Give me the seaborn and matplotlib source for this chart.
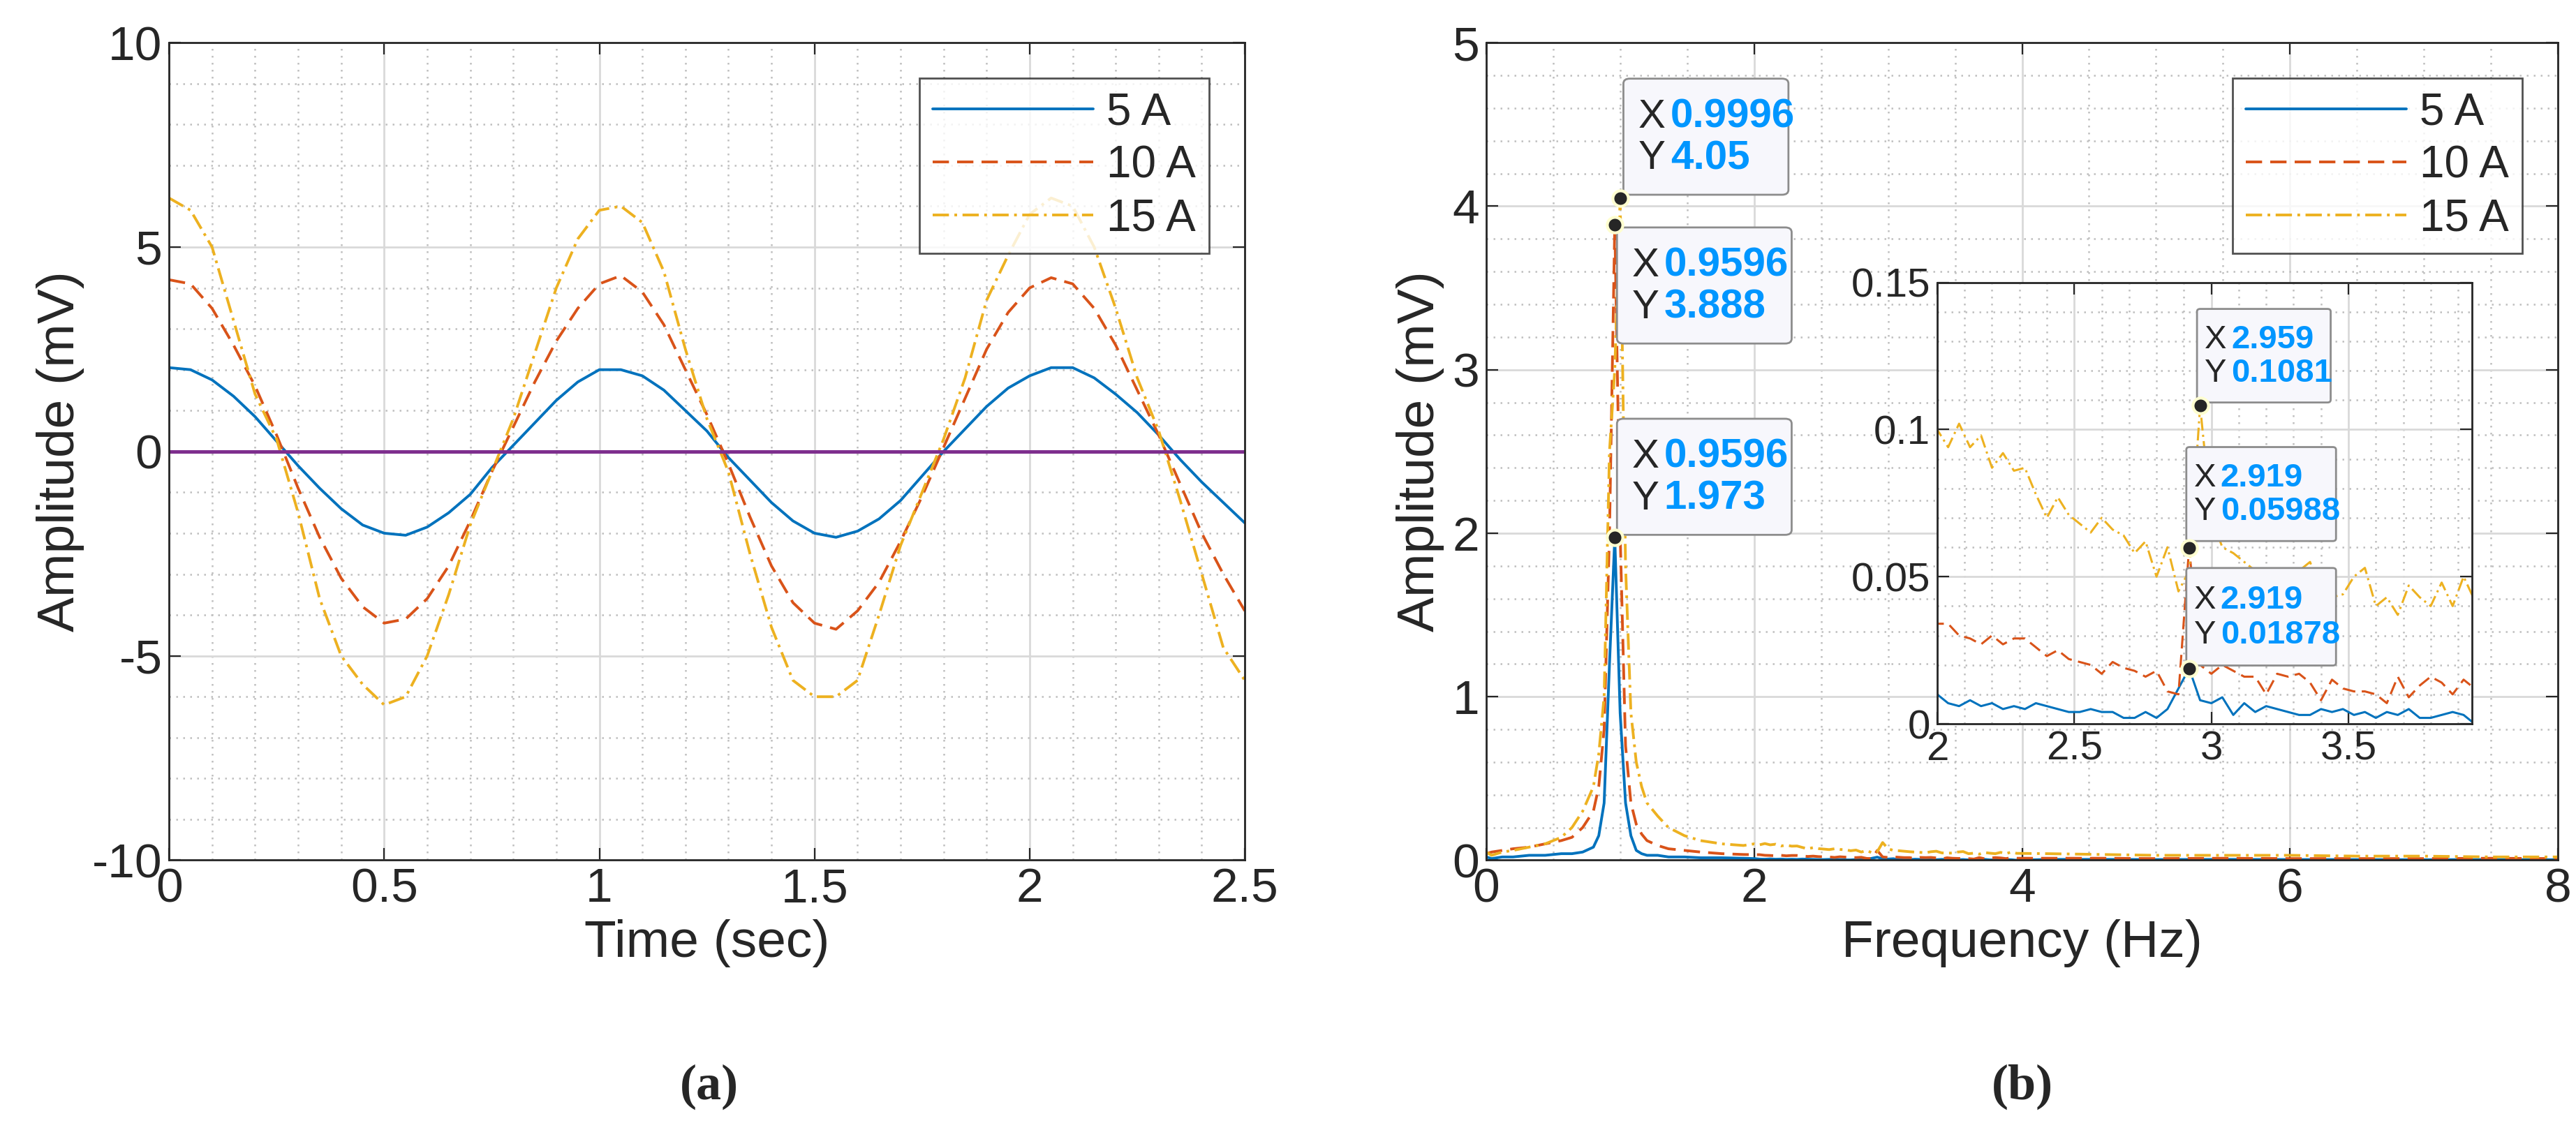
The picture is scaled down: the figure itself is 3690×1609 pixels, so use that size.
import numpy as np
import pandas as pd
import matplotlib.pyplot as plt
import seaborn as sns
from matplotlib.patches import FancyBboxPatch
from matplotlib.ticker import MultipleLocator

# ---- data ----
time_s = [round(0.05 * k, 2) for k in range(51)]
amp_5a = [2.05, 2.0, 1.75, 1.35, 0.85, 0.25, -0.35, -0.9, -1.4, -1.8, -2.0, -2.05, -1.85, -1.5, -1.05, -0.4,
          0.15, 0.7, 1.25, 1.7, 2.0, 2.0, 1.85, 1.5, 1.0, 0.5, -0.15, -0.7, -1.25, -1.7, -2.0, -2.1, -1.95,
          -1.65, -1.2, -0.6, 0.0, 0.55, 1.1, 1.55, 1.85, 2.05, 2.05, 1.8, 1.4, 0.95, 0.4, -0.2, -0.75, -1.25, -1.75]
amp_10a = [4.2, 4.1, 3.5, 2.6, 1.6, 0.4, -0.9, -2.1, -3.1, -3.8, -4.2, -4.1, -3.6, -2.8, -1.7, -0.5, 0.6, 1.7,
           2.7, 3.5, 4.1, 4.3, 3.9, 3.1, 2.0, 0.9, -0.3, -1.6, -2.8, -3.7, -4.2, -4.35, -3.9, -3.2, -2.2, -1.1,
           0.1, 1.3, 2.5, 3.4, 4.0, 4.25, 4.1, 3.5, 2.6, 1.5, 0.4, -0.8, -2.0, -3.0, -3.9]
amp_15a = [6.2, 5.9, 5.0, 3.2, 1.4, 0.3, -1.5, -3.6, -5.0, -5.7, -6.2, -6.0, -5.0, -3.5, -1.8, -0.5, 0.8, 2.4,
           4.0, 5.2, 5.9, 6.0, 5.6, 4.4, 2.5, 0.8, -0.5, -2.5, -4.3, -5.6, -6.0, -6.0, -5.6, -4.0, -2.3, -1.0,
           0.3, 1.8, 3.7, 4.8, 5.8, 6.2, 6.0, 5.0, 3.5, 1.8, 0.5, -1.2, -3.0, -4.8, -5.6]

freq_low = [0, 0.04, 0.12, 0.2, 0.32, 0.44, 0.56, 0.64, 0.72, 0.8, 0.84, 0.88, 0.92, 0.9596, 0.9996, 1.04,
            1.08, 1.12, 1.16, 1.2, 1.28, 1.36, 1.48, 1.6, 1.76, 1.92]
freq_mid = [2.0, 2.04, 2.08, 2.12, 2.16, 2.2, 2.24, 2.28, 2.32, 2.36, 2.4, 2.44, 2.48, 2.52, 2.56, 2.6, 2.64,
            2.68, 2.72, 2.76, 2.8, 2.84, 2.88, 2.919, 2.959, 3.0, 3.04, 3.08, 3.12, 3.16, 3.2, 3.24, 3.28, 3.32,
            3.36, 3.4, 3.44, 3.48, 3.52, 3.56, 3.6, 3.64, 3.68, 3.72, 3.76, 3.8, 3.84, 3.88, 3.92, 3.96]
freq_high = [4.2, 4.6, 5.0, 5.5, 6.0, 6.5, 7.0, 7.5, 8.0]

spec5_low = [0.02, 0.01, 0.02, 0.02, 0.03, 0.03, 0.04, 0.04, 0.05, 0.08, 0.15, 0.35, 1.2, 1.973, 0.9, 0.35,
             0.15, 0.06, 0.04, 0.03, 0.03, 0.02, 0.02, 0.015, 0.015, 0.012]
spec5_mid = [0.010, 0.007, 0.006, 0.008, 0.006, 0.007, 0.005, 0.006, 0.005, 0.007, 0.006, 0.005, 0.004, 0.004,
             0.005, 0.004, 0.004, 0.002, 0.002, 0.004, 0.002, 0.005, 0.012, 0.01878, 0.008, 0.007, 0.009, 0.003,
             0.007, 0.004, 0.006, 0.005, 0.004, 0.003, 0.003, 0.005, 0.004, 0.005, 0.003, 0.004, 0.002, 0.004,
             0.003, 0.005, 0.002, 0.002, 0.003, 0.004, 0.003, 0.0]
spec5_high = [0.005, 0.005, 0.004, 0.005, 0.004, 0.004, 0.003, 0.004, 0.003]

spec10_low = [0.04, 0.05, 0.06, 0.07, 0.08, 0.10, 0.12, 0.14, 0.2, 0.3, 0.45, 0.8, 2.0, 3.888, 2.0, 0.7, 0.35,
              0.22, 0.16, 0.12, 0.09, 0.07, 0.06, 0.05, 0.04, 0.035]
spec10_mid = [0.034, 0.034, 0.030, 0.029, 0.027, 0.030, 0.027, 0.029, 0.029, 0.026, 0.023, 0.025, 0.022, 0.021,
              0.020, 0.017, 0.021, 0.019, 0.018, 0.016, 0.018, 0.011, 0.010, 0.05988, 0.020, 0.017, 0.020, 0.018,
              0.016, 0.016, 0.010, 0.017, 0.016, 0.017, 0.014, 0.008, 0.015, 0.012, 0.011, 0.011, 0.010, 0.007,
              0.016, 0.009, 0.013, 0.016, 0.014, 0.010, 0.015, 0.012]
spec10_high = [0.012, 0.012, 0.01, 0.012, 0.01, 0.01, 0.01, 0.012, 0.01]

spec15_low = [0.05, 0.03, 0.05, 0.06, 0.08, 0.10, 0.14, 0.2, 0.3, 0.45, 0.65, 1.0, 2.5, 3.0, 4.05, 1.8, 0.9,
              0.6, 0.45, 0.35, 0.27, 0.2, 0.15, 0.12, 0.1, 0.09]
spec15_mid = [0.100, 0.094, 0.102, 0.094, 0.098, 0.087, 0.092, 0.086, 0.087, 0.078, 0.070, 0.077, 0.071, 0.068,
              0.065, 0.070, 0.066, 0.064, 0.058, 0.062, 0.050, 0.060, 0.045, 0.052, 0.1081, 0.070, 0.060, 0.058,
              0.055, 0.052, 0.050, 0.048, 0.046, 0.052, 0.055, 0.045, 0.043, 0.044, 0.050, 0.053, 0.040, 0.043,
              0.037, 0.047, 0.043, 0.040, 0.048, 0.040, 0.050, 0.042]
spec15_high = [0.04, 0.035, 0.03, 0.03, 0.03, 0.025, 0.025, 0.02, 0.02]

labels = ["5 A", "10 A", "15 A"]
colors = ["#0072BD", "#D95319", "#EDB120"]
dashes = [(None, None), (6, 3), (6, 2, 1, 2)]

# ---- style ----
sns.set_style("ticks")
plt.rcParams["font.family"] = ["Liberation Sans", "DejaVu Sans"]
plt.rcParams["xtick.direction"] = "in"
plt.rcParams["ytick.direction"] = "in"

fig = plt.figure(figsize=(18.455, 8.045), dpi=200)
ax1 = fig.add_axes([0.0656, 0.234, 0.4175, 0.728])
ax2 = fig.add_axes([0.5768, 0.234, 0.4159, 0.728])
ax3 = fig.add_axes([0.7518, 0.3555, 0.2075, 0.393])

freq = freq_low + freq_mid + freq_high
spec = [spec5_low + spec5_mid + spec5_high,
        spec10_low + spec10_mid + spec10_high,
        spec15_low + spec15_mid + spec15_high]
amps = [amp_5a, amp_10a, amp_15a]


def style_ax(ax, xminor, yminor, fs):
    ax.xaxis.set_minor_locator(MultipleLocator(xminor))
    ax.yaxis.set_minor_locator(MultipleLocator(yminor))
    ax.grid(True, which="major", color="#d9d9d9", lw=1.0)
    ax.grid(True, which="minor", color="#bfbfbf", lw=0.9, ls=(0, (1, 3)))
    ax.tick_params(which="both", top=True, right=True, labelsize=fs, colors="#262626", length=6)
    ax.tick_params(which="minor", length=0)
    for s in ax.spines.values():
        s.set_color("#262626")
        s.set_linewidth(1.0)
    ax.set_axisbelow(True)


# (a) time domain
for lab, y, c, d in zip(labels, amps, colors, dashes):
    sns.lineplot(x=time_s, y=y, ax=ax1, color=c, lw=1.4, label=lab)
    if d[0] is not None:
        ax1.lines[-1].set_dashes(d)
ax1.axhline(0, color="#7E2F8E", lw=1.8)
ax1.set_xlim(0, 2.5)
ax1.set_ylim(-10, 10)
ax1.set_xticks([0, 0.5, 1, 1.5, 2, 2.5])
ax1.set_xticklabels(["0", "0.5", "1", "1.5", "2", "2.5"])
ax1.set_yticks([-10, -5, 0, 5, 10])
ax1.set_yticklabels(["-10", "-5", "0", "5", "10"])
style_ax(ax1, 0.1, 1, 25)
ax1.set_xlabel("Time (sec)", fontsize=27, color="#262626")
ax1.set_ylabel("Amplitude (mV)", fontsize=27, color="#262626")

# (b) spectrum
for lab, y, c, d in zip(labels, spec, colors, dashes):
    sns.lineplot(x=freq, y=y, ax=ax2, color=c, lw=1.4, label=lab)
    if d[0] is not None:
        ax2.lines[-1].set_dashes(d)
ax2.set_xlim(0, 8)
ax2.set_ylim(0, 5)
ax2.set_xticks([0, 2, 4, 6, 8])
ax2.set_yticks([0, 1, 2, 3, 4, 5])
style_ax(ax2, 0.5, 0.2, 25)
ax2.set_xlabel("Frequency (Hz)", fontsize=27, color="#262626")
ax2.set_ylabel("Amplitude (mV)", fontsize=27, color="#262626")

# inset
for y, c, d in zip(spec, colors, dashes):
    sns.lineplot(x=freq, y=y, ax=ax3, color=c, lw=1.1)
    if d[0] is not None:
        ax3.lines[-1].set_dashes(d)
ax3.set_xlim(2, 3.95)
ax3.set_ylim(0, 0.15)
ax3.set_xticks([2, 2.5, 3, 3.5])
ax3.set_xticklabels(["2", "2.5", "3", "3.5"])
ax3.set_yticks([0, 0.05, 0.1, 0.15])
ax3.set_yticklabels(["0", "0.05", "0.1", "0.15"])
style_ax(ax3, 0.1, 0.01, 21)
ax3.set_facecolor("white")
ax3.set_xlabel("")
ax3.set_ylabel("")

for ax in (ax1, ax2):
    leg = ax.legend(loc="upper right", fontsize=23, frameon=True, fancybox=False,
                    edgecolor="#262626", handlelength=3.6, handletextpad=0.3,
                    borderaxespad=0.8, labelspacing=0.25, borderpad=0.3)
    leg.get_frame().set_linewidth(1.0)
if ax3.get_legend():
    ax3.get_legend().remove()


def datatip(ax, px, py, box, xs, ys, fs, gap):
    x0, x1, yb, yt = box
    ax.add_patch(FancyBboxPatch((x0, yb), x1 - x0, yt - yb, boxstyle="round,pad=0,rounding_size=0.006",
                                transform=ax.transAxes, fc="#F7F7FC", ec="#8c8c8c", lw=1.0, zorder=5))
    h = yt - yb
    for i, (k, v) in enumerate([("X", xs), ("Y", ys)]):
        yy = yt - h * (0.33 + 0.36 * i)
        ax.text(x0 + 0.014, yy, k, transform=ax.transAxes, fontsize=fs, color="#262626",
                va="center", zorder=6)
        ax.text(x0 + 0.014 + gap, yy, v, transform=ax.transAxes, fontsize=fs, color="#0096FF",
                fontweight="bold", va="center", zorder=6)
    ax.plot(px, py, "o", ms=8, mfc="#262626", mec="#FFFFD0", mew=1.5, zorder=7)


datatip(ax2, 0.9996, 4.05, (0.128, 0.282, 0.814, 0.956), "0.9996", "4.05", 21, 0.03)
datatip(ax2, 0.9596, 3.888, (0.122, 0.285, 0.632, 0.774), "0.9596", "3.888", 21, 0.03)
datatip(ax2, 0.9596, 1.973, (0.122, 0.285, 0.398, 0.540), "0.9596", "1.973", 21, 0.03)
datatip(ax3, 2.959, 0.1081, (0.486, 0.736, 0.728, 0.940), "2.959", "0.1081", 17, 0.05)
datatip(ax3, 2.919, 0.05988, (0.466, 0.746, 0.414, 0.627), "2.919", "0.05988", 17, 0.05)
datatip(ax3, 2.919, 0.01878, (0.466, 0.746, 0.132, 0.353), "2.919", "0.01878", 17, 0.05)

fig.text(0.2753, 0.032, "(a)", fontsize=26, fontweight="bold", family="Liberation Serif",
         ha="center", va="center")
fig.text(0.785, 0.032, "(b)", fontsize=26, fontweight="bold", family="Liberation Serif",
         ha="center", va="center")

fig.savefig("out.png", dpi=200, facecolor="white")
